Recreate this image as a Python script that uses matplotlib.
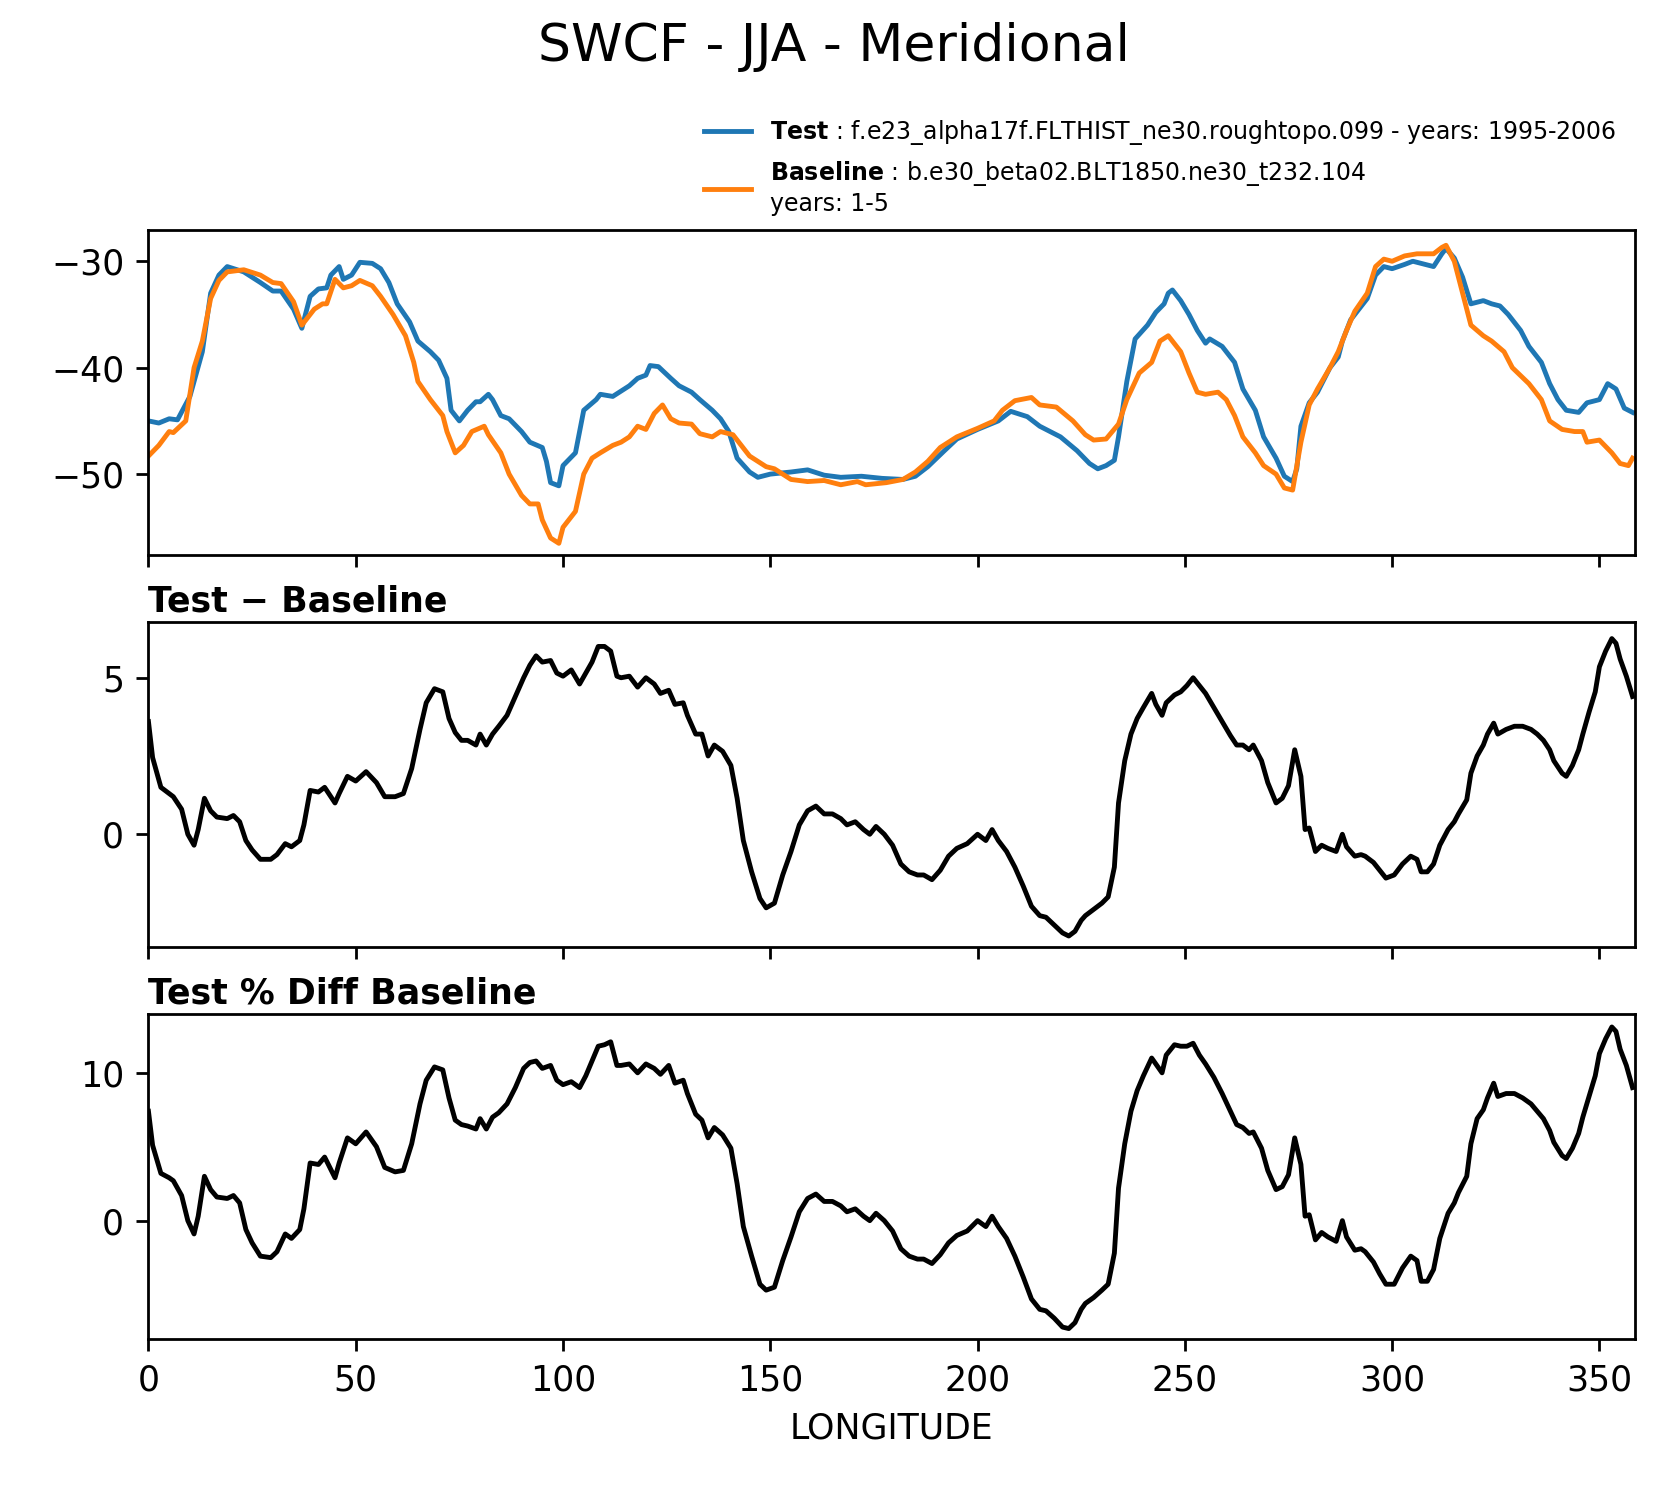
import numpy as np
import matplotlib
matplotlib.use("Agg")
import matplotlib.pyplot as plt

lon_t = [0,2.5,5,7,10,13,15,17,19,23,27,30,32,35,37,39,41,43,44,46,47,49,51,54,56,58,60,63,65,68,70,72,73,75,77,79,80,82,83,85,87,90,92,95,96,97,99,100,103,105,108,109,112,114,116,118,120,121,123,126,128,131,133,136,138,140,142,145,147,150,155,159,163,167,172,177,182,185,188,192,195,200,205,208,212,215,218,220,224,227,229,231,233,234,236,238,241,243,245,246,247,249,251,253,255,256,259,262,264,267,269,272,274,276,277,278,280,282,285,287,288,290,294,296,298,300,303,305,308,310,312,313,315,317,319,322,324,326,328,331,333,336,338,340,342,345,347,350,352,354,356,358]
test = [-45,-45.2,-44.8,-44.9,-42.7,-38.5,-33,-31.3,-30.5,-31,-32,-32.8,-32.8,-34.5,-36.3,-33.3,-32.6,-32.5,-31.3,-30.5,-31.7,-31.3,-30.1,-30.2,-30.7,-32,-34,-35.7,-37.5,-38.5,-39.3,-41,-44,-45,-44,-43.2,-43.2,-42.5,-43,-44.5,-44.8,-46,-47,-47.5,-48.8,-50.8,-51.1,-49.2,-48,-44,-43,-42.5,-42.7,-42.2,-41.7,-41,-40.7,-39.8,-39.9,-41,-41.7,-42.3,-43,-44,-44.8,-46,-48.5,-49.8,-50.3,-50,-49.8,-49.6,-50.1,-50.3,-50.2,-50.4,-50.5,-50.2,-49.3,-47.8,-46.7,-45.8,-45,-44.1,-44.6,-45.5,-46.1,-46.5,-47.8,-49,-49.5,-49.2,-48.7,-46.5,-41.3,-37.3,-36,-34.8,-34,-33,-32.7,-33.7,-35,-36.5,-37.7,-37.3,-38,-39.5,-42,-44,-46.5,-48.5,-50.2,-50.7,-49.5,-45.5,-43.3,-42.3,-40,-39,-37.5,-35.5,-33.5,-31.3,-30.5,-30.7,-30.3,-30,-30.3,-30.5,-29.3,-28.8,-29.7,-31.5,-34,-33.7,-34,-34.2,-35,-36.5,-38,-39.5,-41.5,-43,-44,-44.2,-43.3,-43,-41.5,-42,-43.8,-44.2]
lon_b = [0,2.5,5,6,9,11,13,15,17,19,23,27,30,32,35,37,40,42,43,45,47,49,51,54,56,59,62,64,65,68,71,72,74,76,78,81,82,85,87,90,92,94,95,97,99,100,103,105,107,109,112,114,116,118,120,122,124,126,128,131,133,136,138,141,145,149,151,155,159,163,167,171,173,178,182,185,188,191,195,200,204,206,209,213,215,219,223,226,228,231,234,236,239,242,244,246,249,251,253,255,258,260,262,264,267,269,272,274,276,278,280,282,285,287,289,291,294,296,298,300,303,306,310,312,313,315,317,319,322,324,327,329,333,336,338,341,344,346,347,350,353,355,357,358]
base = [-48.3,-47.3,-46,-46.1,-45,-40,-37.5,-33.5,-31.8,-31,-30.8,-31.3,-32,-32.1,-33.8,-36,-34.5,-34,-34,-31.7,-32.5,-32.3,-31.8,-32.3,-33.3,-35,-37,-39.5,-41.3,-43,-44.5,-46,-48,-47.3,-46,-45.5,-46.3,-48,-50,-52,-52.8,-52.8,-54.3,-56,-56.5,-55,-53.5,-50,-48.5,-48,-47.3,-47,-46.5,-45.5,-45.8,-44.3,-43.5,-44.8,-45.2,-45.3,-46.2,-46.5,-46,-46.3,-48.3,-49.3,-49.5,-50.5,-50.7,-50.6,-51,-50.7,-51,-50.8,-50.5,-49.8,-48.8,-47.5,-46.5,-45.7,-45,-44,-43.1,-42.8,-43.5,-43.7,-45,-46.3,-46.8,-46.7,-45.3,-43,-40.5,-39.5,-37.5,-37,-38.5,-40.5,-42.3,-42.5,-42.3,-43,-44.5,-46.5,-48,-49.2,-50,-51.3,-51.5,-47,-43.5,-42,-40,-38.5,-36.5,-34.7,-33,-30.5,-29.8,-30,-29.5,-29.3,-29.3,-28.7,-28.5,-30,-33,-36,-37,-37.5,-38.5,-40,-41.5,-43,-45,-45.8,-46,-46,-47,-46.8,-48,-49,-49.2,-48.5]
lon_d = [0,1,3,5,6,8,9.5,11,12,13.5,15,16.5,19,20.5,22,23.5,25,27,29.5,31,33,34.5,36.5,37.5,39,41,42.5,45,46,48,50,52.5,55,57,59.5,61.5,63.5,65.5,67,69,71,72.5,74,75.5,77,79,80,81.5,83,84.5,86.5,88.5,90.5,92,93.5,95,97,98.5,100,102,104,105.5,107,108.5,110,111.5,113,114,116,118,120,122,123.5,125.5,127,129,130,132,133.5,135,136.5,138.5,140.5,142,143.5,145.5,147.5,149,151,153,155,157,159,161,163,165,167,168.5,170.5,172.5,174,175.5,177.5,179.5,181.5,183.5,185.5,187,189,191,193,195,197.5,200,202,203.5,205,207,209,211,213,215,216.5,218.5,220.5,222,223.5,225,226,228,230,231.5,233,234,235.5,237,238.5,240,242,243,244.5,245.5,247.5,249,250.5,252,253.5,255,257,259,261,262.5,264,265.5,266.5,268.5,270,272,273.5,275,276.5,278,279,280,281.5,283,284.5,286.5,288,289,291,292.5,293.5,295.5,297,298.5,300.5,302.5,304.5,306,307,308.5,310,311.5,313.5,315,316,318,319,320.5,322,323,324.5,325.5,327.5,329.5,331.5,333.5,335,336.5,338,339,341,342,343.5,345,346,347.5,349,350,351.5,353,354,355,356.5,358]
diff = [3.6,2.45,1.5,1.3,1.2,0.8,0,-0.35,0.15,1.15,0.75,0.55,0.5,0.6,0.4,-0.2,-0.5,-0.8,-0.8,-0.65,-0.3,-0.4,-0.2,0.3,1.4,1.35,1.5,1.0,1.3,1.85,1.7,2.0,1.65,1.2,1.2,1.3,2.1,3.35,4.2,4.65,4.55,3.7,3.25,3.0,3.0,2.85,3.2,2.85,3.2,3.45,3.8,4.4,5.0,5.4,5.7,5.5,5.55,5.15,5.05,5.25,4.8,5.15,5.5,6.0,6.0,5.85,5.05,5.0,5.05,4.7,5.0,4.8,4.5,4.6,4.15,4.2,3.8,3.2,3.2,2.5,2.85,2.65,2.2,1.15,-0.2,-1.2,-2.05,-2.35,-2.2,-1.3,-0.55,0.3,0.75,0.9,0.65,0.65,0.5,0.3,0.4,0.15,0,0.25,0,-0.35,-0.95,-1.2,-1.3,-1.3,-1.45,-1.15,-0.7,-0.45,-0.3,0,-0.2,0.15,-0.2,-0.55,-1.05,-1.65,-2.3,-2.6,-2.65,-2.9,-3.15,-3.25,-3.1,-2.75,-2.6,-2.4,-2.2,-2.0,-1.05,1.0,2.35,3.2,3.7,4.05,4.5,4.15,3.8,4.2,4.45,4.55,4.75,5.0,4.75,4.5,4.05,3.6,3.15,2.85,2.85,2.7,2.85,2.35,1.65,1.0,1.15,1.55,2.7,1.85,0.15,0.2,-0.55,-0.35,-0.45,-0.55,0,-0.4,-0.7,-0.65,-0.7,-0.9,-1.15,-1.4,-1.3,-0.95,-0.7,-0.8,-1.2,-1.2,-0.95,-0.35,0.15,0.4,0.65,1.1,1.95,2.5,2.85,3.2,3.55,3.2,3.35,3.45,3.45,3.35,3.2,3.0,2.7,2.35,1.95,1.85,2.2,2.7,3.2,3.9,4.55,5.35,5.85,6.25,6.1,5.6,5.05,4.4]
pct = [7.4,5.1,3.2,2.9,2.7,1.7,0,-0.9,0.3,3.0,2.1,1.6,1.5,1.7,1.2,-0.6,-1.5,-2.4,-2.5,-2.1,-0.9,-1.2,-0.6,0.8,3.9,3.8,4.3,2.9,3.9,5.6,5.2,6.0,5.0,3.6,3.3,3.4,5.2,7.9,9.5,10.4,10.2,8.3,6.8,6.5,6.4,6.2,6.9,6.2,7.0,7.3,7.9,9.0,10.3,10.7,10.8,10.3,10.5,9.5,9.2,9.4,9.0,9.8,10.8,11.8,11.9,12.1,10.5,10.5,10.6,10.0,10.6,10.3,9.9,10.5,9.3,9.5,8.6,7.2,6.8,5.6,6.3,5.8,4.9,2.5,-0.4,-2.4,-4.3,-4.7,-4.5,-2.7,-1.1,0.6,1.5,1.8,1.3,1.3,1.0,0.6,0.8,0.3,0,0.5,0,-0.7,-1.9,-2.4,-2.6,-2.6,-2.9,-2.3,-1.5,-1.0,-0.7,0,-0.4,0.3,-0.4,-1.2,-2.4,-3.8,-5.3,-6.0,-6.1,-6.6,-7.2,-7.3,-6.9,-6.0,-5.6,-5.2,-4.7,-4.3,-2.2,2.2,5.2,7.4,8.8,9.8,11.0,10.6,10.0,11.2,11.9,11.8,11.8,12.0,11.2,10.6,9.7,8.6,7.4,6.5,6.3,5.9,6.0,4.9,3.4,2.1,2.3,3.1,5.6,3.8,0.3,0.4,-1.3,-0.8,-1.1,-1.4,0,-1.1,-2.0,-1.9,-2.1,-2.8,-3.6,-4.3,-4.3,-3.2,-2.4,-2.7,-4.1,-4.1,-3.3,-1.2,0.5,1.2,1.9,3.0,5.2,6.9,7.5,8.3,9.3,8.4,8.6,8.6,8.3,7.9,7.4,6.9,6.1,5.3,4.4,4.2,4.9,5.9,7.0,8.4,9.8,11.3,12.3,13.1,12.8,11.6,10.5,9.0]

fig = plt.figure(figsize=(6.672, 5.984), dpi=250)
L, W = 0.089, 0.891
ax1 = fig.add_axes([L, 0.629, W, 0.217])
ax2 = fig.add_axes([L, 0.367, W, 0.217])
ax3 = fig.add_axes([L, 0.105, W, 0.217])

l1, = ax1.plot(lon_t, test, color='#1f77b4', lw=1.4)
l2, = ax1.plot(lon_b, base, color='#ff7f0e', lw=1.4)
ax2.plot(lon_d, diff, color='black', lw=1.4)
ax3.plot(lon_d, pct, color='black', lw=1.4)

for ax in (ax1, ax2, ax3):
    ax.set_xlim(0, 358.5)
    ax.set_xticks([0, 50, 100, 150, 200, 250, 300, 350])
for ax in (ax1, ax2):
    ax.tick_params(labelbottom=False)
ax1.set_ylim(-57.6, -27.1)
ax1.set_yticks([-50, -40, -30])
ax2.set_ylim(-3.6, 6.77)
ax2.set_yticks([0, 5])
ax3.set_ylim(-8.0, 13.96)
ax3.set_yticks([0, 10])
ax2.set_title("Test \u2212 Baseline", loc='left', fontweight='bold', fontsize=10, pad=3)
ax3.set_title("Test % Diff Baseline", loc='left', fontweight='bold', fontsize=10, pad=3)
ax3.set_xlabel("LONGITUDE", fontsize=10)
fig.suptitle("SWCF - JJA - Meridional", fontsize=15, y=0.985)

fig.legend([l1, l2],
           [r"$\bf{Test}$ : f.e23_alpha17f.FLTHIST_ne30.roughtopo.099 - years: 1995-2006",
            r"$\bf{Baseline}$ : b.e30_beta02.BLT1850.ne30_t232.104" + "\nyears: 1-5"],
           loc='upper right', bbox_to_anchor=(0.982, 0.935), fontsize=6.8,
           frameon=False, handlelength=2.0)
fig.savefig("out.png", dpi=250)
